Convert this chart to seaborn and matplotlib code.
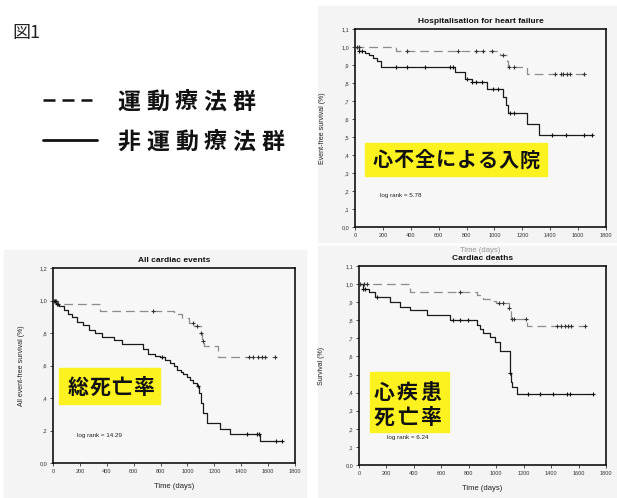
import numpy as np
import matplotlib
matplotlib.use("Agg")
import matplotlib.pyplot as plt
import seaborn as sns
from matplotlib.lines import Line2D
from matplotlib.patches import Rectangle
from matplotlib.ticker import FuncFormatter, MultipleLocator

# --- Hospitalisation for heart failure (top right) ---
hosp_ex_t = [0, 295, 1040, 1090, 1100, 1230, 1640]
hosp_ex_s = [1.0, 0.98, 0.955, 0.925, 0.89, 0.85, 0.85]
hosp_ex_cens = [15, 30, 370, 740, 870, 915, 985, 1060, 1105, 1140, 1435, 1475, 1495, 1520, 1545, 1640]
hosp_ct_t = [0, 30, 70, 100, 130, 160, 190, 720, 790, 840, 945, 1063, 1080, 1095, 1236, 1318, 1700]
hosp_ct_s = [1.0, 0.98, 0.965, 0.955, 0.94, 0.92, 0.89, 0.86, 0.825, 0.805, 0.765, 0.725, 0.68, 0.635, 0.57, 0.51, 0.51]
hosp_ct_cens = [30, 48, 295, 370, 500, 680, 700, 800, 840, 870, 912, 990, 1027, 1110, 1140, 1416, 1514, 1640, 1700]

# --- All cardiac events (bottom left) ---
all_ex_t = [0, 40, 350, 900, 960, 1010, 1050, 1100, 1110, 1125, 1230, 1650]
all_ex_s = [1.0, 0.98, 0.935, 0.915, 0.89, 0.86, 0.845, 0.80, 0.75, 0.72, 0.655, 0.655]
all_ex_cens = [10, 25, 40, 745, 1045, 1070, 1100, 1115, 1460, 1490, 1525, 1555, 1580, 1650]
all_ct_t = [0, 20, 42, 79, 110, 141, 178, 220, 265, 310, 364, 450, 512, 673, 710, 760, 797, 834,
            871, 900, 921, 950, 970, 1000, 1020, 1045, 1069, 1089, 1099, 1119, 1149, 1243, 1317, 1540, 1700]
all_ct_s = [1.0, 0.98, 0.965, 0.944, 0.92, 0.90, 0.87, 0.85, 0.82, 0.80, 0.775, 0.755, 0.73, 0.70, 0.673,
            0.66, 0.652, 0.635, 0.615, 0.595, 0.575, 0.56, 0.545, 0.53, 0.51, 0.49, 0.472, 0.43, 0.37,
            0.31, 0.246, 0.211, 0.178, 0.133, 0.133]
all_ct_cens = [15, 30, 810, 1080, 1440, 1520, 1535, 1660, 1700]

# --- Cardiac deaths (bottom right) ---
death_ex_t = [0, 372, 860, 900, 960, 1000, 1090, 1108, 1222, 1640]
death_ex_s = [1.0, 0.955, 0.94, 0.92, 0.905, 0.895, 0.866, 0.807, 0.77, 0.77]
death_ex_cens = [10, 40, 55, 736, 1023, 1047, 1095, 1112, 1132, 1218, 1440, 1475, 1500, 1520, 1545, 1647]
death_ct_t = [0, 32, 70, 117, 226, 299, 372, 493, 663, 857, 882, 906, 955, 991, 1027, 1100, 1110, 1117, 1149, 1700]
death_ct_s = [1.0, 0.973, 0.955, 0.927, 0.903, 0.875, 0.857, 0.83, 0.80, 0.774, 0.75, 0.728, 0.709,
              0.68, 0.63, 0.507, 0.46, 0.433, 0.39, 0.39]
death_ct_cens = [32, 45, 129, 687, 736, 797, 1100, 1234, 1319, 1411, 1513, 1538, 1703]

legend_labels = ["運動療法群", "非運動療法群"]

sns.set_theme(style="ticks")
plt.rcParams["font.family"] = ["Liberation Sans", "Noto Sans CJK JP", "DejaVu Sans"]
JP = ["Noto Sans CJK JP", "DejaVu Sans"]

W, H = 617, 498
fig = plt.figure(figsize=(6.17, 4.98), dpi=100)
fig.patch.set_facecolor("white")


def fx(x):
    return x / W


def fy(y):
    return 1 - y / H


def spaced(x0, y, s, step, size, weight="bold"):
    for i, ch in enumerate(s):
        fig.text(fx(x0 + step * i), fy(y), ch, family=JP, fontsize=size, weight=weight,
                 ha="center", va="center", color="#111111", zorder=6)


def spss(v, pos):
    s = f"{v:.1f}".replace(".", ",")
    if s.startswith("0,") and v > 0:
        s = s[1:]
    return s


def at(times, surv, c):
    idx = np.searchsorted(times, c, side="right") - 1
    return np.asarray(surv)[idx]


def panel(box, title, ylabel, ylab_x, ymax, ystep, ex_t, ex_s, ex_c, ct_t, ct_s, ct_c, xcolor="#222222"):
    l, t, r, b = box
    ax = fig.add_axes([fx(l), fy(b), fx(r) - fx(l), fy(t) - fy(b)])
    ax.set_zorder(2)
    ax.set_facecolor("#f7f7f7")
    sns.lineplot(x=ex_t, y=ex_s, drawstyle="steps-post", estimator=None, sort=False,
                 color="#8c8c8c", linestyle=(0, (7, 4)), lw=0.9, ax=ax)
    sns.lineplot(x=ct_t, y=ct_s, drawstyle="steps-post", estimator=None, sort=False,
                 color="#1a1a1a", lw=0.9, ax=ax)
    sns.scatterplot(x=ex_c, y=at(ex_t, ex_s, ex_c), marker="+", s=9, color="#333333",
                    linewidth=0.8, ax=ax, zorder=3)
    sns.scatterplot(x=ct_c, y=at(ct_t, ct_s, ct_c), marker="+", s=9, color="#111111",
                    linewidth=0.8, ax=ax, zorder=3)
    ax.set_xlim(0, 1800)
    ax.set_ylim(0, ymax)
    ax.xaxis.set_major_locator(MultipleLocator(200))
    ax.yaxis.set_major_locator(MultipleLocator(ystep))
    ax.yaxis.set_major_formatter(FuncFormatter(spss))
    for sp in ax.spines.values():
        sp.set_visible(True)
        sp.set_linewidth(1.2)
        sp.set_color("#111111")
    ax.tick_params(labelsize=4, length=2, width=0.6, pad=2, colors="#333333")
    ax.set_title(title, fontsize=6, weight="bold", pad=4, color="#111111")
    ax.set_ylabel(ylabel, fontsize=5, color="#222222")
    ax.yaxis.set_label_coords(-(l - ylab_x) / (r - l), 0.5)
    ax.set_xlabel("Time (days)", fontsize=5.5, color=xcolor, labelpad=7)
    return ax


# light backgrounds of the scanned panels
for x0, y0, x1, y1 in [(318, 6, 617, 242), (4, 250, 306, 498), (318, 246, 617, 498)]:
    fig.patches.append(Rectangle((fx(x0), fy(y1)), fx(x1) - fx(x0), fy(y0) - fy(y1),
                                 transform=fig.transFigure, color="#f4f4f4", zorder=-1))

panel((355, 29, 606, 227), "Hospitalisation for heart failure", "Event-free survival (%)", 326,
      1.1, 0.1, hosp_ex_t, hosp_ex_s, hosp_ex_cens, hosp_ct_t, hosp_ct_s, hosp_ct_cens, xcolor="#999999")
panel((53, 268, 295, 463), "All cardiac events", "All event-free survival (%)", 25,
      1.2, 0.2, all_ex_t, all_ex_s, all_ex_cens, all_ct_t, all_ct_s, all_ct_cens)
panel((359, 266, 606, 465), "Cardiac deaths", "Survival (%)", 325,
      1.1, 0.1, death_ex_t, death_ex_s, death_ex_cens, death_ct_t, death_ct_s, death_ct_cens)

# log rank notes
for x, y, s in [(380, 195, "log rank = 5.78"), (77, 435, "log rank = 14.29"), (387, 438, "log rank = 6.24")]:
    fig.text(fx(x), fy(y), s, fontsize=4.5, ha="left", va="center", color="#222222", zorder=6)

# yellow label boxes
for x0, y0, x1, y1 in [(365, 143, 547, 176), (59, 368, 160, 404), (370, 372, 449, 432)]:
    fig.patches.append(Rectangle((fx(x0), fy(y1)), fx(x1) - fx(x0), fy(y0) - fy(y1),
                                 transform=fig.transFigure, color="#fbf21f", zorder=5))
spaced(382.5, 160, "心不全による入院", 21, 14.5)
spaced(78, 387, "総死亡率", 22, 15)
spaced(384.5, 392, "心疾患", 23, 15)
spaced(384.5, 417, "死亡率", 23, 15)

# figure label and legend
fig.text(fx(12), fy(33), "図1", family=JP, fontsize=13, ha="left", va="center", color="#222222")
fig.add_artist(Line2D([fx(43), fx(92)], [fy(100), fy(100)], transform=fig.transFigure,
                      color="#111111", lw=1.8, linestyle=(0, (4.8, 2.8))))
fig.add_artist(Line2D([fx(43), fx(97)], [fy(140), fy(140)], transform=fig.transFigure,
                      color="#111111", lw=2.0))
spaced(129, 102, legend_labels[0], 28.7, 16.5)
spaced(129, 142, legend_labels[1], 28.7, 16.5)

fig.savefig("out.png", dpi=100)
